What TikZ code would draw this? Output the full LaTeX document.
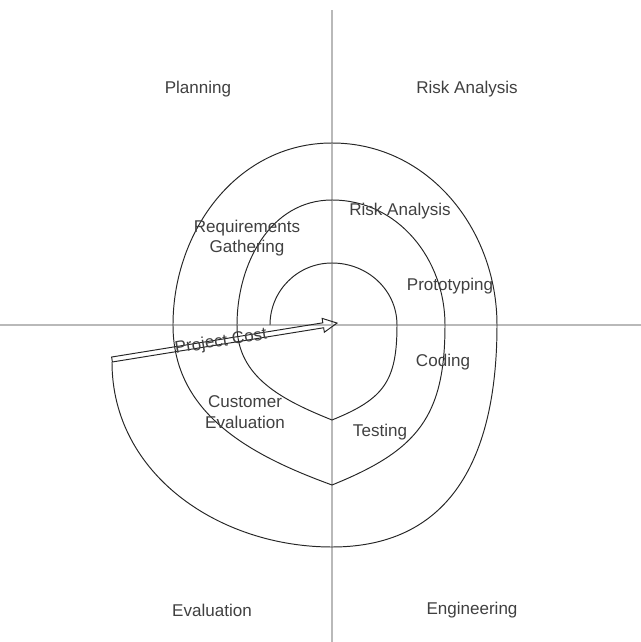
\documentclass[tikz,border=0pt]{standalone}
\usepackage{fontspec}
\setmainfont{Liberation Sans}

\begin{document}
\begin{tikzpicture}[
  axis/.style={gray!55, line width=1.1pt},
  spiral/.style={black!85, line width=0.55pt},
  phase/.style={text=black!75, font=\fontsize{9.7}{11.6}\selectfont, align=center},
]
\useasboundingbox (-6.64,-6.34) rectangle (6.18,6.5);
% quadrant axes
\draw[axis] (-6.64,0) -- (6.18,0);
\draw[axis] (0,-6.34) -- (0,6.3);
% spiral, from the centre outwards
\coordinate (start) at (-1.24,0);
\coordinate (outer end) at (-4.4,-0.74);
\draw[spiral] (start) to[out=90,in=180] (0,1.24) to[out=0,in=90] (1.30,0)
  to[out=-90,in=22,looseness=1.25] (0,-1.9) to[out=158,in=-90] (-1.9,0)
  to[out=90,in=180] (0,2.5) to[out=0,in=90] (2.26,0)
  to[out=-90,in=22,looseness=1.2] (0,-3.2) to[out=160,in=-90] (-3.18,0)
  to[out=90,in=180] (0,3.64) to[out=0,in=90] (3.3,0)
  to[out=-90,in=0,looseness=1.15] (0,-4.44) to[out=180,in=-90] (outer end);
% project cost arrow
\coordinate (tail) at (-4.4,-0.69);
\coordinate (hub) at (0.1,0.04);
\begin{scope}[shift={(tail)}, rotate=9.2]
\draw[spiral] (0,-0.05) -- (4.28,-0.05) -- (4.28,-0.14) -- (4.56,0)
  -- (4.28,0.14) -- (4.28,0.05) -- (0,0.05) -- cycle;
\end{scope}
\node[phase, rotate=9.2] (cost) at (-2.22,-0.34) {Project Cost};
% quadrant names
\node[phase] (planning) at (-2.68,4.72) {Planning};
\node[phase] (risk) at (2.7,4.72) {Risk Analysis};
\node[phase] (evaluation) at (-2.4,-5.7) {Evaluation};
\node[phase] (engineering) at (2.8,-5.7) {Engineering};
% activities along the spiral
\node[phase] (requirements) at (-1.7,1.74) {Requirements\\Gathering};
\node[phase] (inner risk) at (1.36,2.28) {Risk Analysis};
\node[phase] (prototyping) at (2.36,0.78) {Prototyping};
\node[phase] (coding) at (2.22,-0.74) {Coding};
\node[phase] (customer) at (-1.74,-1.74) {Customer\\Evaluation};
\node[phase] (testing) at (0.96,-2.14) {Testing};
\end{tikzpicture}
\end{document}
